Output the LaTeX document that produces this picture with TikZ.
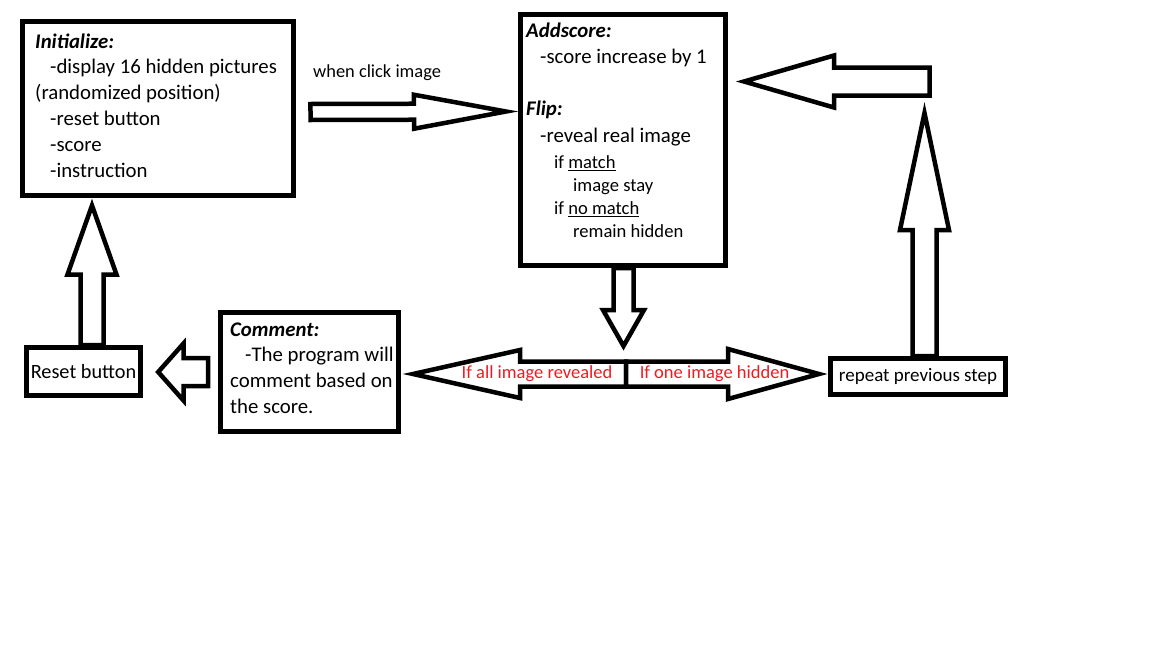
\documentclass[tikz,border=0pt]{standalone}
\usepackage{fontspec}
\setmainfont{Carlito}
\usetikzlibrary{calc}
\definecolor{paintred}{RGB}{237,28,36}
\tikzset{
	x=1pt, y=-1pt, % one unit is one pixel of the sketch, y runs down
	box/.style={draw, line width=5pt, inner sep=0pt}, % the framed boxes
	blockarrow/.style={draw, fill=white, line width=4.5pt, line join=miter}, % the hollow arrows
	bodytext/.style={anchor=north west, inner sep=0pt, align=left, font=\fontsize{20.8}{25.8}\selectfont},
	smalltext/.style={anchor=north west, inner sep=0pt, align=left, font=\fontsize{18.6}{23}\selectfont},
	redtext/.style={anchor=base, inner sep=0pt, text=paintred, font=\fontsize{18.5}{22}\selectfont},
}
% hollow arrow from #1 to #2: half shaft width, half head width, head length
\newcommand{\blockarrow}[5]{%
	\coordinate (#2-base) at ($(#2)!#5!(#1)$);
	\draw[blockarrow] ($(#1)!#3!90:(#2)$) -- ($(#2-base)!#3!90:(#2)$) -- ($(#2-base)!#4!90:(#2)$)
		-- (#2) -- ($(#2-base)!#4!-90:(#2)$) -- ($(#2-base)!#3!-90:(#2)$) -- ($(#1)!#3!-90:(#2)$) -- cycle;
}

\begin{document}
\begin{tikzpicture}
	\fill[white] (0,0) rectangle (1152,648);
	\useasboundingbox (0,0) rectangle (1152,648);

	% boxes
	\node[box, minimum width=271pt, minimum height=174pt] (init) at (158,108.5) {};
	\node[box, minimum width=205pt, minimum height=251pt] (addscore) at (623,140) {};
	\node[box, minimum width=178pt, minimum height=119pt] (comment) at (309.5,372) {};
	\node[box, minimum width=114pt, minimum height=48pt, font=\fontsize{20.3}{24}\selectfont] (reset) at (83.5,371.5) {Reset button};
	\node[box, minimum width=175pt, minimum height=35.5pt, font=\fontsize{19}{23}\selectfont] (repeat) at (918,376.25) {repeat previous step};

	% box texts
	\node[bodytext] (inittext) at (35,29.8) {\strut\textbf{\textit{Initialize:}}\\
		\hspace*{15pt}-display 16 hidden pictures\\
		(randomized position)\\
		\hspace*{15pt}-reset button\\
		\hspace*{15pt}-score\\
		\hspace*{15pt}-instruction};
	\node[bodytext, font=\fontsize{20.8}{26.2}\selectfont] (addtext) at (526,18.7) {\strut\textbf{\textit{Addscore:}}\\
		\hspace*{14pt}-score increase by 1\\[26.2pt]
		\textbf{\textit{Flip:}}\\
		\hspace*{14pt}-reveal real image};
	\node[smalltext] (fliptext) at (554,151.9) {\strut if \underline{match}\\
		\hspace*{19pt}image stay\\
		if \underline{no match}\\
		\hspace*{19pt}remain hidden};
	\node[bodytext, font=\fontsize{20.8}{25.7}\selectfont] (commenttext) at (230,318) {\strut\textbf{\textit{Comment:}}\\
		\hspace*{15pt}-The program will\\
		comment based on\\
		the score.};
	\node[anchor=base west, inner sep=0pt, font=\fontsize{18.4}{22}\selectfont] (clicklabel) at (313,77) {when click image};

	% arrow ends
	\coordinate (a1s) at ($(init.east)+(14.5,3.5)$);
	\coordinate (a1t) at (506,111.5);
	\coordinate (a2s) at (929.5,81.5);
	\coordinate (a2t) at (744,81.5);
	\coordinate (a3s) at ($(repeat.north)+(6.5,0)$);
	\coordinate (a3t) at (924.5,113);
	\coordinate (a4s) at ($(addscore.south)+(0.5,0)$);
	\coordinate (a4t) at (623.5,346);
	\coordinate (split) at (626,374);
	\coordinate (a5t) at (413,374);
	\coordinate (a6t) at (819,374);
	\coordinate (a7s) at ($(comment.west)+(-10,0)$);
	\coordinate (a7t) at (158.2,372);
	\coordinate (a8s) at ($(reset.north)+(8.5,0)$);
	\coordinate (a8t) at (92,205.5);

	% hollow arrows
	\blockarrow{a1s}{a1t}{8pt}{17pt}{92pt}
	\blockarrow{a2s}{a2t}{14pt}{26pt}{90pt}
	\blockarrow{a3s}{a3t}{12pt}{24.5pt}{117pt}
	\blockarrow{a4s}{a4t}{10pt}{20.5pt}{36pt}
	\blockarrow{split}{a5t}{12.5pt}{24pt}{107pt}
	\blockarrow{split}{a6t}{12.5pt}{25pt}{91pt}
	\blockarrow{a7s}{a7t}{14pt}{28.5pt}{25.3pt}
	\blockarrow{a8s}{a8t}{11.5pt}{24.5pt}{69pt}

	% labels on the split arrow
	\node[redtext] (alllabel) at (537,378) {If all image revealed};
	\node[redtext] (onelabel) at (714.5,378) {If one image hidden};
\end{tikzpicture}
\end{document}
